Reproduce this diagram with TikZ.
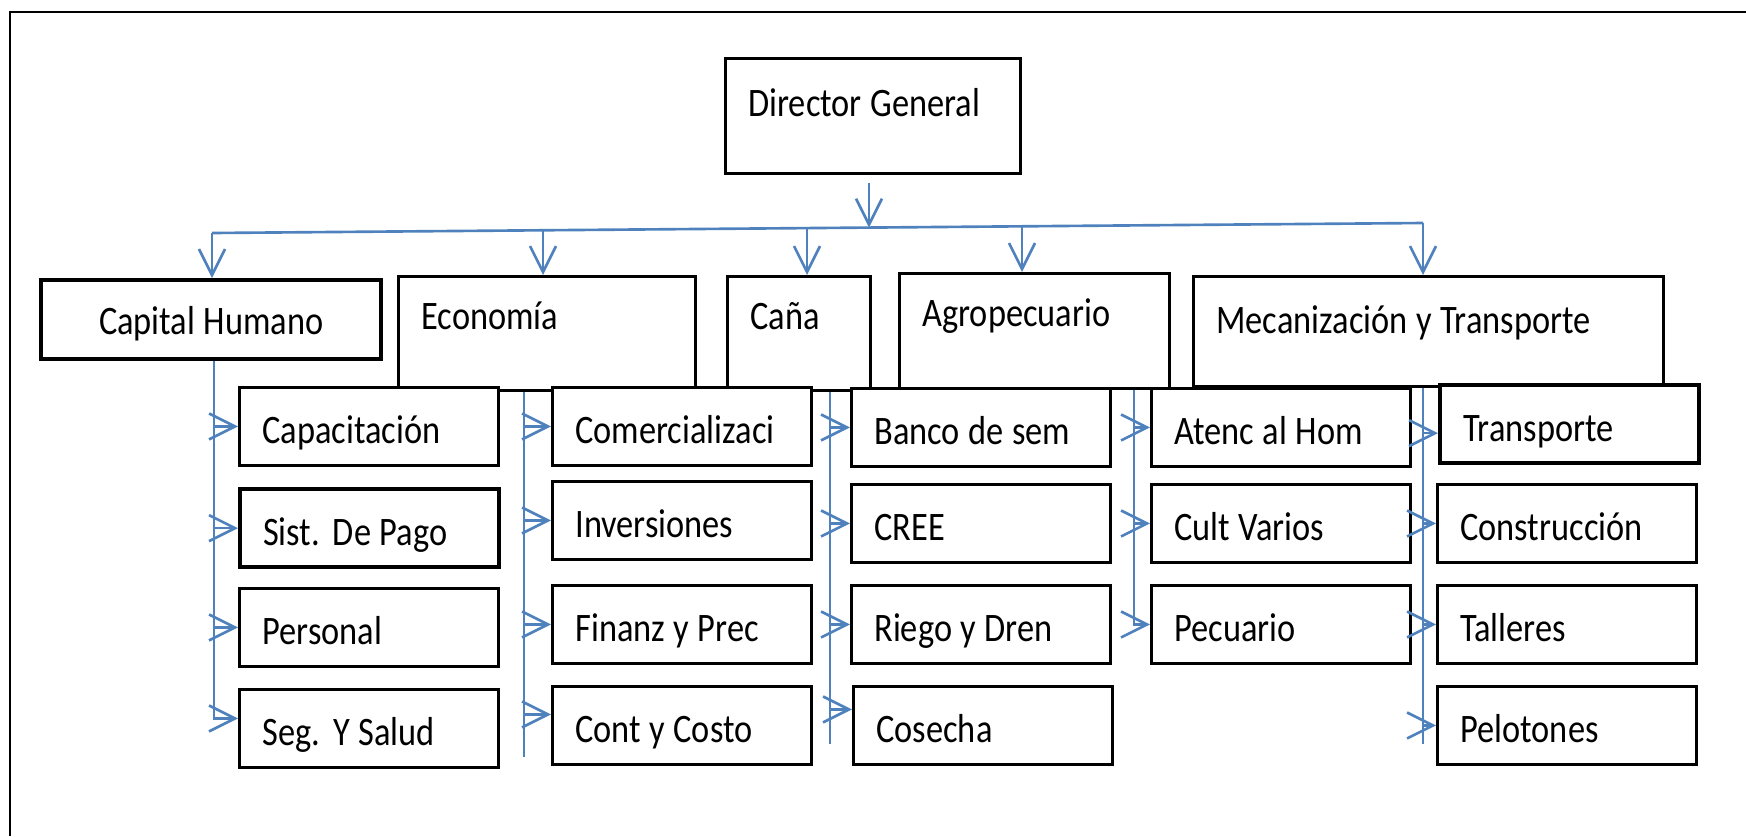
\documentclass[tikz,border=0pt]{standalone}
\usepackage{fontspec}
\setmainfont[FakeStretch=0.85]{Carlito}
\usetikzlibrary{arrows.meta}
\definecolor{orgblue}{RGB}{79,129,189}
\newcommand{\orgfont}{\fontsize{11.5}{13.5}\selectfont\spaceskip=0.21em\relax\xspaceskip=0.32em\relax}
\tikzset{
    unit/.style = {rectangle, thick, draw=black, fill=white, anchor=north west, inner xsep=0.23cm, inner ysep=0pt, align=flush left, text height=0.55cm, font=\orgfont},
    subunit/.style = {unit, text width=2.13cm, text height=0.56cm, text depth=0.22cm},
    frame/.style = {thick, draw=black},
    spine/.style = {line width=0.75pt, draw=orgblue},
    edgeb/.style = {-{Straight Barb[length=0.26cm,width=0.26cm]}, line width=0.75pt, draw=orgblue}, % to a box
}
\begin{document}
\begin{tikzpicture}[x=0.01cm, y=-0.01cm]
  \useasboundingbox (0,0) rectangle (1746,836);
  \draw[frame] (10,836) -- (10,12) -- (1746,12);
  % director
  \node[unit, text width=2.49cm, text height=0.58cm, text depth=0.57cm] (dir) at (724,57) {Director General};
  % departments
  \node[unit, very thick, align=flush center, text width=2.94cm, text height=0.54cm, text depth=0.25cm] (cap) at (39,278) {Capital Humano};
  \node[unit, text width=2.51cm, text height=0.53cm, text depth=0.61cm] (eco) at (397,275) {Economía};
  \node[unit, text width=0.97cm, text height=0.53cm, text depth=0.61cm] (cana) at (726,275) {Caña};
  \node[unit, text width=2.24cm, text height=0.53cm, text depth=0.62cm] (agro) at (898,272) {Agropecuario};
  \node[unit, text width=4.24cm, text height=0.57cm, text depth=0.53cm] (mec) at (1192,275) {Mecanización y Transporte};
  % Capital Humano
  \node[subunit] (capa) at (238,386) {Capacitación};
  \node[subunit, very thick] (sist) at (238,487) {Sist. De Pago};
  \node[subunit] (pers) at (238,587) {Personal};
  \node[subunit] (seg) at (238,688) {Seg. Y Salud};
  % Economia
  \node[subunit] (comer) at (551,386) {Comercializaci};
  \node[subunit] (inv) at (551,480) {Inversiones};
  \node[subunit] (fin) at (551,584) {Finanz y Prec};
  \node[subunit] (cont) at (551,685) {Cont y Costo};
  % Cana
  \node[subunit] (banco) at (850,387) {Banco de sem};
  \node[subunit] (cree) at (850,483) {CREE};
  \node[subunit] (riego) at (850,584) {Riego y Dren};
  \node[subunit] (cos) at (852,685) {Cosecha};
  % Agropecuario
  \node[subunit] (aten) at (1150,387) {Atenc al Hom};
  \node[subunit] (cult) at (1150,483) {Cult Varios};
  \node[subunit] (pec) at (1150,584) {Pecuario};
  % Mecanizacion
  \node[subunit, very thick] (trans) at (1438,383) {Transporte};
  \node[subunit] (cons) at (1436,483) {Construcción};
  \node[subunit] (tall) at (1436,584) {Talleres};
  \node[subunit] (pel) at (1436,685) {Pelotones};

  % bus under the director
  \coordinate (b0) at (869,227.6);
  \coordinate (b1) at (212,233);
  \coordinate (b2) at (543,230.3);
  \coordinate (b3) at (807,228.1);
  \coordinate (b4) at (1022,226.3);
  \coordinate (b5) at (1423,223);
  \draw[spine] (b1) -- (b5);
  \draw[edgeb, shorten <=0.08cm] (dir.south -| b0) -- (b0);
  \draw[edgeb] (b1) -- (b1 |- cap.north);
  \draw[edgeb] (b2) -- (b2 |- eco.north);
  \draw[edgeb] (b3) -- (b3 |- cana.north);
  \draw[edgeb] (b4) -- (b4 |- agro.north);
  \draw[edgeb] (b5) -- (b5 |- mec.north);

  % spines
  \coordinate (s1) at (214,0);
  \coordinate (s2) at (524,757);
  \coordinate (s3) at (830,744);
  \coordinate (s4) at (1134,0);
  \coordinate (s5) at (1423,744);
  \coordinate (segin) at ([yshift=0.1cm]seg.west);
  \coordinate (contin) at ([yshift=0.11cm]cont.west);
  \coordinate (cosin) at ([yshift=0.16cm]cos.west);
  \coordinate (transin) at ([yshift=-0.09cm]trans.west);
  \draw[spine] (eco.south -| s2) -- (s2);
  \draw[spine] (cana.south -| s3) -- (s3);
  \draw[spine] (mec.south -| s5) -- (s5);

  \draw[edgeb] (cap.south -| s1) |- (segin);
  \draw[edgeb] (s1 |- capa.west) -- (capa.west);
  \draw[edgeb] (s1 |- sist.west) -- (sist.west);
  \draw[edgeb] (s1 |- pers.west) -- (pers.west);

  \draw[edgeb] (s2 |- comer.west) -- (comer.west);
  \draw[edgeb] (s2 |- inv.west) -- (inv.west);
  \draw[edgeb] (s2 |- fin.west) -- (fin.west);
  \draw[edgeb] (s2 |- contin) -- (contin);

  \draw[edgeb] (s3 |- banco.west) -- (banco.west);
  \draw[edgeb] (s3 |- cree.west) -- (cree.west);
  \draw[edgeb] (s3 |- riego.west) -- (riego.west);
  \draw[edgeb] (s3 |- cosin) -- (cosin);

  \draw[edgeb] (agro.south -| s4) |- (pec.west);
  \draw[edgeb] (s4 |- aten.west) -- (aten.west);
  \draw[edgeb] (s4 |- cult.west) -- (cult.west);

  \draw[edgeb] (s5 |- transin) -- (transin);
  \draw[edgeb] (s5 |- cons.west) -- (cons.west);
  \draw[edgeb] (s5 |- tall.west) -- (tall.west);
  \draw[edgeb] (s5 |- pel.west) -- (pel.west);
\end{tikzpicture}
\end{document}
